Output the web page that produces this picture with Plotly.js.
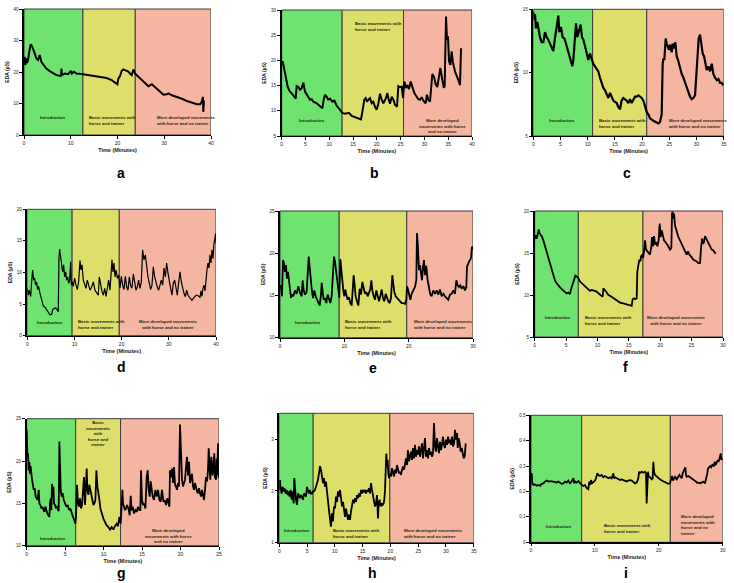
<!DOCTYPE html>
<html><head><meta charset="utf-8">
<script src="https://cdn.plot.ly/plotly-3.0.1.min.js"></script>
<style>html,body{margin:0;padding:0;background:#fff}#chart{width:734px;height:583px}</style>
</head><body><div id="chart"></div>
<script>
// ---------------- DATA (time in minutes, EDA in µS) ----------------
const tA=[0,0.14,0.29,0.43,0.64,0.86,1.07,1.43,1.72,1.93,2.29,2.65,3.01,3.36,3.72,4.22,4.79,5.51,6.23,6.94,7.66,7.94,8.01,8.09,8.73,9.45,10.02,10.23,10.66,11.23,12.31,13.38,14.81,16.24,17.68,18.75,19.46,19.97,20.18,20.54,20.9,21.25,21.61,21.97,22.33,22.68,23.04,23.4,23.76,24.47,25.55,26.62,27.34,27.84,28.41,29.12,29.84,30.56,30.91,31.63,32.7,33.78,34.85,35.92,37.0,37.71,38.0,38.28,38.36,38.5];
const eA=[22.7,24.8,22.2,24.3,22.9,23.8,25.9,28.8,28.2,27.5,25.9,24.3,23.8,25.4,23.2,22.2,21.1,20.3,19.5,19.0,18.8,18.9,21.1,19.0,19.5,19.3,20.4,19.5,20.1,19.5,19.4,19.1,18.8,18.5,18.1,17.4,16.7,16.1,17.9,18.7,20.4,20.8,20.6,20.4,20.1,19.5,19.0,20.8,19.5,18.5,16.9,15.5,16.1,15.5,14.7,13.7,12.8,12.9,13.2,12.6,12.1,11.5,10.8,10.2,9.8,9.8,10.5,12.1,7.3,11.0];

const tB=[0,0.21,0.49,0.84,1.26,1.61,2.1,2.66,2.94,3.15,3.5,3.85,4.2,4.55,4.9,5.25,5.6,5.95,6.3,6.65,7.36,8.06,8.55,8.83,9.11,9.46,9.81,10.16,10.65,11.07,11.56,12.26,12.75,13.31,14.15,14.71,15.41,16.11,16.67,16.95,17.37,17.65,17.93,18.21,18.56,18.91,19.26,19.61,19.96,20.31,20.66,21.02,21.37,21.86,22.21,22.42,22.77,23.12,23.47,23.82,24.24,24.52,24.87,25.22,25.5,25.78,26.13,26.41,26.76,27.11,27.46,27.88,28.37,28.72,29.07,29.42,29.77,30.26,30.54,30.82,31.17,31.66,32.01,32.36,32.71,33.06,33.34,33.62,34.04,34.25,34.54,34.74,34.95,35.17,35.45,35.73,36.0,36.43,36.78,37.13,37.48,37.69];
const eB=[19.5,19.8,18.5,16.5,14.8,14.0,13.5,12.8,12.4,14.9,14.7,14.2,14.5,15.6,13.8,13.2,12.5,12.2,12.3,11.8,11.5,11.0,10.5,12.2,13.2,12.8,12.2,12.4,11.8,12.0,11.0,10.2,9.6,9.4,9.6,9.0,8.7,8.5,8.3,9.8,12.2,12.5,11.8,12.2,12.5,11.5,11.8,10.8,10.2,11.4,13.4,12.2,11.5,12.4,13.5,12.5,11.4,12.8,12.2,11.2,10.8,14.9,14.7,14.8,12.5,15.8,14.5,15.1,14.3,15.8,14.7,13.5,12.8,12.3,12.2,12.7,12.0,11.5,13.2,12.2,11.8,17.3,16.8,15.3,14.7,16.8,18.5,16.9,14.7,14.8,28.7,24.1,24.8,19.8,19.1,21.8,19.5,17.8,17.1,16.1,15.1,22.4];

const tC=[0,0.18,0.31,0.49,0.74,0.92,1.23,1.53,1.84,2.15,2.45,2.76,3.07,3.37,3.68,3.98,4.29,4.6,4.78,5.09,5.39,5.7,6.01,6.31,6.62,6.93,7.17,7.36,7.66,7.85,8.09,8.46,8.7,8.95,9.2,9.5,9.81,10.11,10.42,10.73,11.03,11.34,11.65,11.95,12.26,12.57,12.87,13.18,13.49,13.79,14.1,14.41,14.71,15.02,15.33,15.63,15.94,16.24,16.55,16.86,17.16,17.47,17.78,18.08,18.39,18.7,19.0,19.31,19.62,19.92,20.23,20.54,20.84,21.15,21.46,22.07,22.68,22.99,23.29,23.42,23.6,23.78,23.91,24.09,24.34,24.52,24.7,24.95,25.13,25.44,25.62,25.87,26.11,26.36,26.67,26.97,27.28,27.59,27.89,28.2,28.5,28.81,29.12,29.42,29.73,29.91,30.16,30.4,30.65,30.9,31.14,31.39,31.63,31.88,32.18,32.49,32.8,33.1,33.41,33.72,34.02,34.33,34.63,34.94];
const eC=[14.8,14.2,14.6,13.5,14.0,13.4,12.8,12.4,12.4,13.2,12.8,12.6,12.3,11.9,11.7,12.7,13.5,14.5,13.2,13.6,12.8,12.7,12.3,11.8,11.3,10.9,10.5,11.0,13.1,13.9,12.8,13.4,13.8,12.8,12.6,12.1,11.5,11.0,11.5,11.1,10.7,10.5,10.3,10.1,9.6,9.2,8.8,8.6,8.2,8.0,8.4,8.1,7.8,7.7,7.6,7.3,7.1,7.8,8.0,7.9,7.8,7.6,7.9,7.6,7.8,8.1,8.1,8.2,8.1,8.0,7.8,7.4,6.9,6.7,6.4,6.2,6.1,6.0,6.1,6.5,6.7,10.7,11.1,11.0,12.7,12.3,12.1,11.8,12.2,11.6,12.3,11.9,12.4,11.3,10.9,10.3,9.9,9.6,9.2,8.8,8.4,8.1,7.9,8.0,8.2,9.4,11.4,12.7,13.0,12.4,11.5,11.3,10.6,10.2,10.5,10.1,10.7,9.9,9.6,9.4,9.5,9.2,9.2,9.0];

const tD=[0,0.21,0.42,0.71,0.92,1.13,1.34,1.55,1.77,1.98,2.19,2.4,2.69,3.04,3.39,3.75,4.1,4.45,4.81,5.16,5.37,5.65,6.01,6.36,6.57,6.71,6.85,7.07,7.28,7.49,7.7,7.92,8.13,8.34,8.55,8.76,8.98,9.19,9.33,9.54,9.75,10.04,10.32,10.6,10.88,11.17,11.38,11.59,11.87,12.16,12.44,12.72,13.0,13.29,13.64,13.99,14.35,14.7,15.05,15.26,15.55,15.83,16.11,16.4,16.68,16.96,17.24,17.53,17.74,17.95,18.16,18.37,18.59,18.8,19.08,19.36,19.65,19.93,20.21,20.49,20.78,21.06,21.34,21.63,21.91,22.19,22.47,22.76,23.04,23.32,23.6,23.89,24.17,24.45,24.73,25.02,25.3,25.58,25.87,26.15,26.43,26.71,27.0,27.28,27.56,27.84,28.13,28.41,28.69,28.97,29.26,29.54,29.82,30.11,30.39,30.67,30.95,31.24,31.52,31.8,32.08,32.37,32.65,32.93,33.21,33.5,33.78,34.06,34.35,34.63,34.91,35.19,35.48,35.76,36.04,36.32,36.61,36.82,37.03,37.24,37.46,37.67,37.88,38.09,38.3,38.52,38.73,38.94,39.15,39.36,39.58,39.79,39.93,40.0];
const eD=[7.5,6.4,7.2,6.2,8.5,10.4,8.8,9.1,8.0,8.5,7.3,7.8,6.7,5.4,4.7,4.5,4.1,3.5,3.3,3.4,4.1,4.3,4.4,4.1,3.8,12.2,13.7,12.5,11.5,10.1,11.2,9.3,10.1,8.8,9.3,8.3,8.8,11.7,8.0,8.5,7.8,9.1,8.0,7.3,8.5,11.9,10.4,11.2,8.8,8.0,7.5,8.8,7.8,7.2,7.7,8.5,7.2,6.7,6.4,9.3,7.8,7.0,6.4,7.5,6.2,7.3,8.8,7.2,9.1,12.0,10.1,11.5,9.3,10.4,9.1,9.6,7.5,9.4,8.0,7.3,9.4,7.7,7.2,9.3,7.9,7.5,9.8,8.0,7.2,7.7,8.8,7.5,8.5,13.6,12.0,12.8,10.7,9.3,8.3,7.3,8.0,10.9,9.3,8.3,7.7,7.2,7.9,8.8,8.0,10.7,9.3,11.5,9.9,8.3,7.5,6.4,8.3,8.8,7.3,6.4,8.4,10.1,8.5,7.3,6.7,6.2,7.2,6.4,6.1,5.9,5.6,5.9,6.2,6.4,6.4,6.3,6.1,7.1,6.2,7.5,8.0,7.1,9.6,10.4,11.5,10.7,12.8,11.5,13.6,12.2,14.6,15.7,16.2,14.6];

const tE=[0,0.16,0.31,0.47,0.62,0.78,0.93,1.09,1.24,1.4,1.55,1.71,1.87,2.07,2.33,2.59,2.85,3.11,3.37,3.52,3.68,3.89,4.14,4.3,4.46,4.61,4.77,4.92,5.13,5.34,5.54,5.75,5.96,6.17,6.37,6.48,6.63,6.79,6.99,7.2,7.41,7.62,7.82,8.03,8.29,8.39,8.55,8.7,8.86,9.07,9.22,9.38,9.53,9.69,9.84,10.0,10.15,10.31,10.52,10.72,10.93,11.14,11.29,11.45,11.61,11.76,11.97,12.18,12.38,12.59,12.8,13.0,13.21,13.42,13.63,13.83,14.04,14.2,14.35,14.56,14.77,14.97,15.18,15.39,15.59,15.8,16.01,16.22,16.42,16.63,16.84,17.05,17.25,17.46,17.62,17.77,17.98,18.19,18.39,18.65,18.91,19.17,19.43,19.64,19.74,19.9,20.05,20.26,20.46,20.72,20.98,21.19,21.29,21.45,21.6,21.76,21.92,22.07,22.23,22.38,22.54,22.74,22.95,23.16,23.37,23.57,23.83,24.09,24.35,24.61,24.87,25.13,25.39,25.65,25.91,26.16,26.42,26.68,26.94,27.2,27.41,27.61,27.82,28.03,28.24,28.5,28.75,28.96,29.07,29.22,29.38,29.53,29.69,29.84,30.0];
const eE=[15.8,16.2,14.9,19.2,18.8,17.8,18.6,17.0,17.8,16.4,15.6,14.7,15.1,14.9,15.6,15.2,16.1,15.3,14.9,16.8,15.6,15.1,15.4,17.4,19.6,18.4,16.8,15.8,14.7,15.6,14.9,14.5,14.1,13.8,15.1,16.5,15.4,14.5,14.7,14.1,15.1,14.5,14.1,14.9,17.7,19.6,19.0,18.0,16.8,15.6,14.7,19.3,18.0,16.4,15.6,14.9,15.7,15.1,14.5,14.8,14.1,13.8,15.8,17.4,16.2,14.9,14.3,13.8,15.8,15.1,16.6,15.7,15.2,15.4,14.9,15.3,15.8,16.8,15.6,14.9,14.5,15.6,14.9,14.3,14.9,15.7,14.7,14.3,15.2,14.7,14.3,14.1,14.7,17.4,16.2,15.4,14.9,14.7,14.5,14.3,14.1,14.1,14.0,14.5,16.1,15.7,15.1,14.5,15.2,15.6,16.0,16.8,22.4,20.6,18.0,18.6,17.4,16.8,18.4,19.2,17.4,18.5,16.8,15.8,15.1,14.9,15.6,15.2,15.6,15.1,15.7,14.9,15.2,14.9,14.7,14.5,15.1,15.2,15.6,15.2,16.8,16.2,16.0,16.2,15.8,16.1,15.6,16.0,18.4,18.8,19.0,19.2,19.4,20.8,20.4];

const tF=[0,0.16,0.32,0.48,0.64,0.8,0.96,1.12,1.38,1.65,1.91,2.18,2.44,2.71,2.97,3.24,3.5,3.77,4.04,4.3,4.57,4.83,5.1,5.36,5.63,5.79,6.0,6.16,6.32,6.48,6.69,6.96,7.22,7.49,7.75,8.02,8.28,8.55,8.81,9.08,9.35,9.61,9.88,10.14,10.41,10.67,10.83,10.94,11.1,11.26,11.47,11.74,12.0,12.53,13.06,13.59,14.12,14.66,15.19,15.45,15.61,15.82,16.04,16.25,16.35,16.46,16.57,16.67,16.83,16.94,17.1,17.26,17.42,17.58,17.74,17.95,18.16,18.37,18.59,18.69,18.85,19.01,19.17,19.33,19.54,19.75,19.91,20.07,20.23,20.39,20.6,20.82,21.03,21.29,21.56,21.77,21.88,21.98,22.09,22.2,22.35,22.62,22.89,23.15,23.42,23.68,23.95,24.21,24.43,24.64,24.9,25.28,25.54,25.81,26.07,26.34,26.5,26.66,26.82,26.97,27.13,27.4,27.67,27.93,28.2,28.46,28.73,28.83];
const eF=[16.7,17.1,16.7,17.3,17.8,17.3,17.1,17.0,16.5,15.8,15.0,14.2,13.5,12.8,12.2,11.7,11.4,11.1,10.9,10.7,10.5,10.4,10.2,10.3,10.1,10.7,11.2,11.6,12.0,12.3,12.2,12.0,11.6,11.4,11.2,11.0,10.9,10.7,10.5,10.6,10.5,10.5,10.4,10.2,10.0,9.9,9.8,10.8,10.7,10.5,10.3,10.0,9.9,9.6,9.3,9.1,9.0,8.9,8.8,8.7,9.5,9.6,9.5,9.6,12.8,13.2,14.0,14.2,14.0,14.6,14.8,14.4,15.2,16.5,15.4,15.2,15.0,14.8,15.8,16.9,15.8,17.0,16.0,16.3,15.8,16.5,18.5,16.9,17.7,17.1,16.5,16.3,16.1,15.8,15.4,15.6,19.7,19.9,19.1,19.7,18.3,17.5,16.9,16.5,16.1,15.6,15.2,14.8,15.2,14.8,14.6,14.2,14.1,14.0,13.8,13.8,15.6,16.7,16.1,16.3,17.0,16.6,16.3,15.8,15.4,15.3,15.0,14.9];

const tG=[0,0.09,0.17,0.26,0.35,0.43,0.52,0.65,0.78,0.91,1.04,1.17,1.3,1.43,1.56,1.65,1.78,1.91,2.04,2.17,2.3,2.43,2.56,2.69,2.82,2.95,3.03,3.12,3.21,3.29,3.38,3.47,3.55,3.68,3.81,3.94,4.07,4.16,4.25,4.33,4.42,4.55,4.68,4.81,4.98,5.16,5.33,5.5,5.68,5.85,6.02,6.2,6.33,6.41,6.54,6.67,6.8,6.93,7.06,7.19,7.32,7.45,7.58,7.71,7.8,7.89,8.02,8.15,8.28,8.41,8.54,8.67,8.8,8.93,9.06,9.19,9.32,9.45,9.58,9.75,9.97,10.18,10.4,10.62,10.83,11.05,11.27,11.48,11.7,11.87,12.05,12.22,12.31,12.44,12.52,12.65,12.78,12.91,13.04,13.22,13.39,13.52,13.65,13.78,13.95,14.13,14.3,14.47,14.65,14.78,14.86,14.99,15.12,15.25,15.43,15.6,15.73,15.86,15.99,16.12,16.25,16.38,16.55,16.73,16.9,17.07,17.25,17.42,17.59,17.77,17.94,18.11,18.29,18.46,18.55,18.63,18.76,18.89,19.02,19.15,19.28,19.41,19.54,19.67,19.8,19.93,20.06,20.19,20.32,20.45,20.58,20.71,20.84,20.97,21.1,21.23,21.36,21.49,21.62,21.75,21.88,22.01,22.14,22.27,22.4,22.53,22.66,22.79,22.92,23.05,23.18,23.31,23.44,23.57,23.66,23.74,23.87,24.0,24.09,24.18,24.31,24.39,24.48,24.61,24.7,24.78,24.87,24.96,25.0];
const eG=[23.7,20.5,20.9,18.9,19.9,18.5,19.4,18.1,17.4,16.6,16.8,15.8,15.6,15.4,16.6,15.0,14.8,14.4,14.6,14.2,14.0,14.6,14.0,13.8,13.6,13.4,15.0,15.6,14.2,17.3,15.8,17.0,15.0,14.8,14.4,14.7,14.2,14.1,22.3,18.9,16.6,15.8,16.2,15.4,15.0,14.6,14.8,14.2,14.4,13.8,13.4,13.0,12.6,13.4,17.2,15.0,14.6,15.6,14.4,14.8,16.2,18.1,14.8,17.0,19.1,16.6,16.0,17.2,16.4,15.8,15.4,14.8,15.0,15.4,18.9,17.0,15.8,15.4,14.4,13.8,13.2,12.8,12.4,12.2,11.9,12.2,11.9,12.3,12.6,12.3,13.4,12.6,14.4,16.6,15.0,14.6,14.2,14.4,14.8,14.4,13.6,15.9,14.2,14.6,13.8,14.2,14.0,14.6,14.2,14.2,18.9,15.4,14.8,15.0,14.4,18.1,18.9,16.6,15.8,17.6,16.4,15.8,15.4,16.6,15.8,16.6,15.4,15.2,16.6,15.2,15.4,14.8,15.6,15.0,14.6,18.9,18.1,19.1,17.4,19.3,17.2,17.0,16.6,17.4,17.0,24.3,20.5,17.8,17.0,17.4,17.8,19.3,20.5,18.3,19.9,17.4,17.8,18.5,17.0,16.6,17.4,16.6,16.4,16.2,16.8,16.2,15.8,16.6,15.9,15.4,16.6,18.1,17.6,18.9,21.5,18.9,17.8,20.5,19.3,18.3,19.9,20.9,18.1,17.8,20.3,18.3,22.1,18.0,21.7];

const tH=[0,0.12,0.24,0.42,0.6,0.78,0.96,1.14,1.32,1.5,1.68,1.86,2.04,2.22,2.4,2.58,2.7,2.82,3.0,3.18,3.36,3.54,3.72,3.9,4.08,4.26,4.44,4.62,4.8,4.98,5.16,5.34,5.52,5.7,5.88,6.06,6.24,6.42,6.6,6.78,6.96,7.14,7.32,7.5,7.68,7.86,8.04,8.22,8.4,8.58,8.76,8.94,9.12,9.3,9.48,9.66,9.84,10.03,10.21,10.39,10.57,10.75,10.93,11.11,11.29,11.47,11.65,11.83,12.01,12.19,12.37,12.55,12.73,12.91,13.09,13.27,13.45,13.63,13.81,13.99,14.17,14.35,14.53,14.71,14.89,15.07,15.25,15.43,15.61,15.79,15.97,16.15,16.33,16.51,16.69,16.87,17.05,17.23,17.41,17.59,17.77,17.89,18.07,18.25,18.43,18.61,18.79,18.91,19.03,19.15,19.27,19.39,19.51,19.63,19.75,19.93,20.11,20.29,20.47,20.65,20.83,21.01,21.19,21.37,21.55,21.73,21.91,22.09,22.27,22.45,22.63,22.81,22.99,23.17,23.35,23.53,23.71,23.89,24.07,24.25,24.43,24.61,24.79,24.97,25.15,25.33,25.51,25.69,25.87,26.05,26.23,26.41,26.59,26.77,26.95,27.13,27.31,27.49,27.67,27.85,28.03,28.21,28.39,28.57,28.75,28.93,29.11,29.29,29.47,29.65,29.83,30.02,30.2,30.38,30.56,30.74,30.92,31.1,31.28,31.46,31.64,31.82,32.0,32.12,32.3,32.48,32.66,32.84,33.02,33.2,33.38,33.56];
const eH=[2.02,2.21,2.05,1.95,2.08,1.99,2.05,1.95,2.02,1.92,1.99,1.89,2.02,1.83,1.99,1.76,2.25,2.02,1.83,1.73,1.95,1.92,1.86,1.92,1.89,1.83,1.95,1.92,1.89,2.08,1.99,1.95,2.02,1.95,1.95,1.99,1.99,2.02,2.08,2.15,2.21,2.34,2.48,2.41,2.28,2.15,2.25,2.08,2.18,1.95,1.76,1.63,1.47,1.31,1.57,1.41,1.70,1.66,1.89,1.79,1.99,1.89,2.02,1.89,1.70,1.79,1.60,1.50,1.66,1.54,1.44,1.54,1.44,1.60,1.73,1.83,1.76,1.86,1.79,1.92,1.86,1.95,1.89,2.02,1.95,2.02,1.99,2.02,1.95,2.02,1.99,2.05,1.95,2.15,2.02,1.89,1.79,1.70,1.76,1.92,1.47,1.76,1.83,1.70,1.76,1.73,1.76,1.83,2.02,2.34,2.72,2.47,2.60,2.34,2.25,2.34,2.28,2.44,2.34,2.28,2.41,2.34,2.50,2.41,2.34,2.37,2.31,2.41,2.47,2.41,2.57,2.63,2.50,2.79,2.57,2.66,2.76,2.60,2.83,2.63,2.89,2.66,2.79,2.70,2.86,2.66,2.76,2.92,2.63,2.83,3.02,2.66,2.79,2.63,2.83,2.70,2.76,2.66,2.73,3.31,2.86,2.76,3.02,2.86,2.73,2.95,2.79,2.89,3.05,2.89,2.83,2.99,2.89,3.05,2.92,2.99,2.89,3.05,2.86,2.92,3.18,2.99,3.12,2.83,3.02,2.92,2.76,2.83,2.70,2.63,2.66,2.92];

const tI=[0,0.1,0.21,0.37,0.63,0.89,1.15,1.41,1.67,1.93,2.19,2.45,2.71,2.97,3.5,4.02,4.28,4.54,4.8,5.06,5.32,5.58,5.84,6.1,6.36,6.63,6.78,6.94,7.15,7.41,7.67,7.93,8.19,8.45,8.71,8.97,9.13,9.23,9.39,9.55,9.76,10.02,10.17,10.38,10.54,10.8,11.06,11.32,11.58,11.84,12.1,12.36,12.62,12.89,12.99,13.15,13.41,13.67,13.93,14.19,14.45,14.71,14.97,15.23,15.49,15.76,16.02,16.28,16.54,16.8,16.9,17.06,17.32,17.58,17.84,18.0,18.1,18.21,18.31,18.42,18.63,18.89,19.04,19.15,19.25,19.41,19.67,19.93,20.19,20.45,20.71,20.97,21.23,21.49,21.75,21.91,22.07,22.22,22.38,22.54,22.8,23.06,23.22,23.32,23.42,23.58,23.74,23.84,24.0,24.15,24.26,24.36,24.62,24.89,25.15,25.41,25.67,25.82,25.93,26.19,26.45,26.71,26.97,27.23,27.39,27.49,27.6,27.7,27.86,28.02,28.17,28.28,28.43,28.59,28.75,28.9,29.06,29.22,29.37,29.53,29.69,29.8,29.9,30.0];
const eI=[0.258,0.272,0.232,0.226,0.228,0.223,0.226,0.222,0.230,0.232,0.239,0.243,0.239,0.241,0.239,0.235,0.239,0.234,0.230,0.232,0.239,0.235,0.243,0.232,0.239,0.252,0.232,0.239,0.235,0.241,0.232,0.226,0.222,0.226,0.213,0.209,0.239,0.226,0.245,0.232,0.237,0.243,0.252,0.272,0.265,0.261,0.265,0.256,0.261,0.256,0.252,0.256,0.252,0.272,0.252,0.256,0.252,0.248,0.245,0.248,0.245,0.243,0.239,0.243,0.245,0.243,0.239,0.232,0.235,0.252,0.278,0.272,0.278,0.274,0.278,0.272,0.153,0.258,0.278,0.258,0.256,0.248,0.252,0.317,0.278,0.265,0.258,0.252,0.248,0.243,0.239,0.235,0.232,0.230,0.232,0.252,0.261,0.243,0.252,0.258,0.248,0.256,0.265,0.261,0.256,0.252,0.272,0.278,0.285,0.295,0.265,0.258,0.261,0.256,0.252,0.248,0.245,0.239,0.235,0.235,0.232,0.235,0.239,0.232,0.245,0.256,0.272,0.291,0.298,0.300,0.295,0.304,0.308,0.298,0.317,0.304,0.313,0.324,0.317,0.337,0.350,0.324,0.331,0.324];

// phase end times (minutes): Introduction, Basic movements, More developed
const phA=[12.6,23.8,40], phB=[12.7,25.6,40], phC=[10.9,20.85,35];
const phD=[9.5,19.5,40],  phE=[9.2,19.7,30],  phF=[6.95,17.25,30];
const phG=[6.37,12.2,25], phH=[6.1,19.9,35],  phI=[7.93,21.8,30];

const panelLetters=['a','b','c','d','e','f','g','h','i'];
const phaseNames=['Introduction','Basic movements with<br>horse and trainer','More developed movements<br>with horse and no trainer'];

// ---------------- LAYOUT ----------------
const W=734,H=583;
const fx=p=>p/W, fy=p=>1-p/H;
const colors=['#6fe36f','#dedf6a','#f4b6a0'];
const FONT='Liberation Sans, Arial, sans-serif';

const panels=[
 {t:tA,v:eA,ph:phA,yr:[0,40],xt:[0,10,20,30,40],yt:[0,10,20,30,40],box:[24,211,9,135],lw:2,lab:[121,173]},
 {t:tB,v:eB,ph:phB,yr:[5,30],xt:[0,5,10,15,20,25,30,35,40],yt:[5,10,15,20,25,30],box:[281.7,472,10,136],lw:2,lab:[374,173]},
 {t:tC,v:eC,ph:phC,yr:[5,15],xt:[0,5,10,15,20,25,30,35],yt:[5,10,15],box:[533.3,723.7,9.3,136],lw:2.2,lab:[627,173]},
 {t:tD,v:eD,ph:phD,yr:[0,20],xt:[0,10,20,30,40],yt:[0,5,10,15,20],box:[27.3,216,209.3,335.7],lw:1.2,lab:[121.7,367]},
 {t:tE,v:eE,ph:phE,yr:[10,25],xt:[0,10,20,30],yt:[10,15,20,25],box:[280,473,211,337.7],lw:1.8,lab:[373,368]},
 {t:tF,v:eF,ph:phF,yr:[5,20],xt:[0,5,10,15,20,25,30],yt:[5,10,15,20],box:[534.7,723,211,337],lw:1.8,lab:[625.3,367]},
 {t:tG,v:eG,ph:phG,yr:[10,25],xt:[0,5,10,15,20,25],yt:[10,15,20,25],box:[26.7,219,418.7,545.7],lw:1.8,lab:[121.7,573]},
 {t:tH,v:eH,ph:phH,yr:[1,3.5],xt:[0,5,10,15,20,25,30,35],yt:[1,2,3],box:[279.3,473.7,413.3,542.7],lw:1.8,lab:[372,573]},
 {t:tI,v:eI,ph:phI,yr:[0,0.5],xt:[0,10,20,30],yt:[0,0.1,0.2,0.3,0.4,0.5],box:[531,722.7,415.3,542.3],lw:1.8,lab:[625.7,573]}
];

// phase label placement (pixel positions; [x, yCenter, xanchor, text override])
const labelPos=[
 [[52,117,'center'],[86.7,120,'left'],[154,120,'left']],
 [[311.7,120.7,'center'],[352.7,26.5,'left'],[442.7,125.5,'center','More developed<br>movements with horse<br>and no trainer']],
 [[561,120,'center'],[597,123,'left'],[665.7,123,'left']],
 [[49.3,322.7,'center'],[76,325,'left'],[168.3,325,'center']],
 [[307.7,322,'center'],[342.7,324.5,'left'],[411.3,324.5,'left']],
 [[557.7,317.7,'center'],[583.3,320,'left'],[676,320,'center']],
 [[52.7,538.3,'center'],[98.3,433,'center','Basic<br>movements<br>with<br>horse and<br>trainer'],[168.3,535.8,'center','More developed<br>movements with horse<br>and no trainer']],
 [[296.7,530.7,'center'],[331,533.2,'left'],[400.7,533.2,'left']],
 [[558.3,526,'center'],[601.7,528.5,'left'],[679,525.3,'left','More developed<br>movements with<br>horse and no<br>trainer']]
];

const data=[], shapes=[], annotations=[];
const layout={width:W,height:H,margin:{l:0,r:0,t:0,b:0},paper_bgcolor:'#fff',plot_bgcolor:'#fff',
  showlegend:false,font:{family:FONT,color:'#111'}};

panels.forEach((p,k)=>{
  const n=k+1, xa='x'+(n===1?'':n), ya='y'+(n===1?'':n);
  const xk='xaxis'+(n===1?'':n), yk='yaxis'+(n===1?'':n);
  const xmax=p.ph[2];
  layout[xk]={domain:[fx(p.box[0]),fx(p.box[1])],anchor:ya,range:[0,xmax],tickvals:p.xt,
    showgrid:false,zeroline:false,showline:true,linecolor:'#000',linewidth:1.3,
    ticks:'outside',ticklen:2.5,tickwidth:1,tickcolor:'#000',tickfont:{size:5,family:FONT,color:'#222'},
    title:{text:'<b>Time (Minutes)</b>',font:{size:5.5,family:FONT,color:'#222'},standoff:3}};
  layout[yk]={domain:[fy(p.box[3]),fy(p.box[2])],anchor:xa,range:p.yr,tickvals:p.yt,
    showgrid:false,zeroline:false,showline:true,linecolor:'#000',linewidth:2.2,
    ticks:'outside',ticklen:2.5,tickwidth:1,tickcolor:'#000',tickfont:{size:4.5,family:FONT,color:'#222'},
    title:{text:'<b>EDA (µS)</b>',font:{size:5,family:FONT,color:'#222'},standoff:4}};
  let x0=0;
  p.ph.forEach((x1,j)=>{
    shapes.push({type:'rect',xref:xa,yref:ya+' domain',x0:x0,x1:x1,y0:0,y1:1,layer:'below',
      fillcolor:colors[j],line:{color:'#3d3d3d',width:1}});
    x0=x1;
  });
  data.push({type:'scatter',mode:'lines',x:p.t,y:p.v,xaxis:xa,yaxis:ya,
    line:{color:'#000',width:p.lw},cliponaxis:true,hoverinfo:'skip'});
  labelPos[k].forEach((lp,j)=>{
    annotations.push({xref:'paper',yref:'paper',x:fx(lp[0]),y:fy(lp[1]),xanchor:lp[2],yanchor:'middle',
      align:lp[2],showarrow:false,text:'<b>'+(lp[3]||phaseNames[j])+'</b>',font:{size:4.3,family:FONT,color:'#26260c'}});
  });
  annotations.push({xref:'paper',yref:'paper',x:fx(p.lab[0]),y:fy(p.lab[1]),xanchor:'center',yanchor:'middle',
    showarrow:false,text:'<b>'+panelLetters[k]+'</b>',font:{size:14,family:FONT,color:'#000'}});
});
layout.shapes=shapes;
layout.annotations=annotations;
Plotly.newPlot('chart',data,layout,{staticPlot:true,displayModeBar:false});
</script></body></html>
